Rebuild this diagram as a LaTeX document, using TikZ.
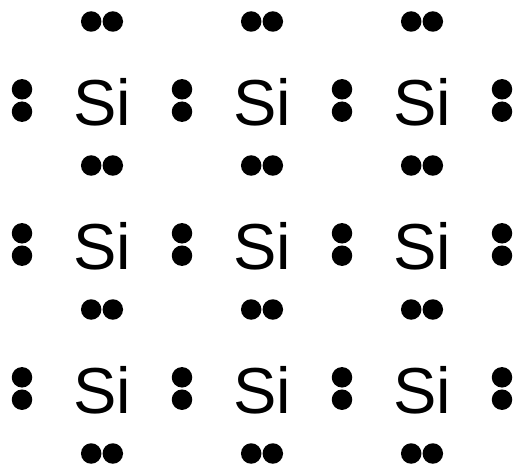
\documentclass[tikz,border=0pt]{standalone}
\usepackage{fontspec}
\setmainfont{Liberation Sans}
\usetikzlibrary{positioning}
\tikzset{
  atom/.style={font=\fontsize{65}{65}\selectfont, inner sep=0pt, anchor=base},
  dot/.style={circle, fill=black, minimum size=20.5pt, inner sep=0pt}
}

\begin{document}
\begin{tikzpicture}[x=1pt,y=-1pt]
  \useasboundingbox (0,0) rectangle (514,468);
  % atoms
  \foreach \c/\x in {1/102,2/262,3/422}
    \foreach \r/\y in {1/100.5,2/244.5,3/388.5}
      {\node[atom] (si\c\r) at (\x,\y+25) {Si};}
  % electron pairs above and below
  \foreach \c/\x in {1/102,2/262,3/422}
    \foreach \r/\y in {0/21.5,1/165.5,2/309.5,3/453.5} {
      \node[dot] (h\c\r a) at (\x-10.8,\y) {};
      \node[dot] (h\c\r b) at (\x+10.8,\y) {};
    }
  % electron pairs left and right
  \foreach \c/\x in {0/22,1/182,2/342,3/502}
    \foreach \r/\y in {1/100.5,2/244.5,3/388.5} {
      \node[dot] (v\c\r a) at (\x,\y-11.2) {};
      \node[dot] (v\c\r b) at (\x,\y+11.2) {};
    }
\end{tikzpicture}
\end{document}
